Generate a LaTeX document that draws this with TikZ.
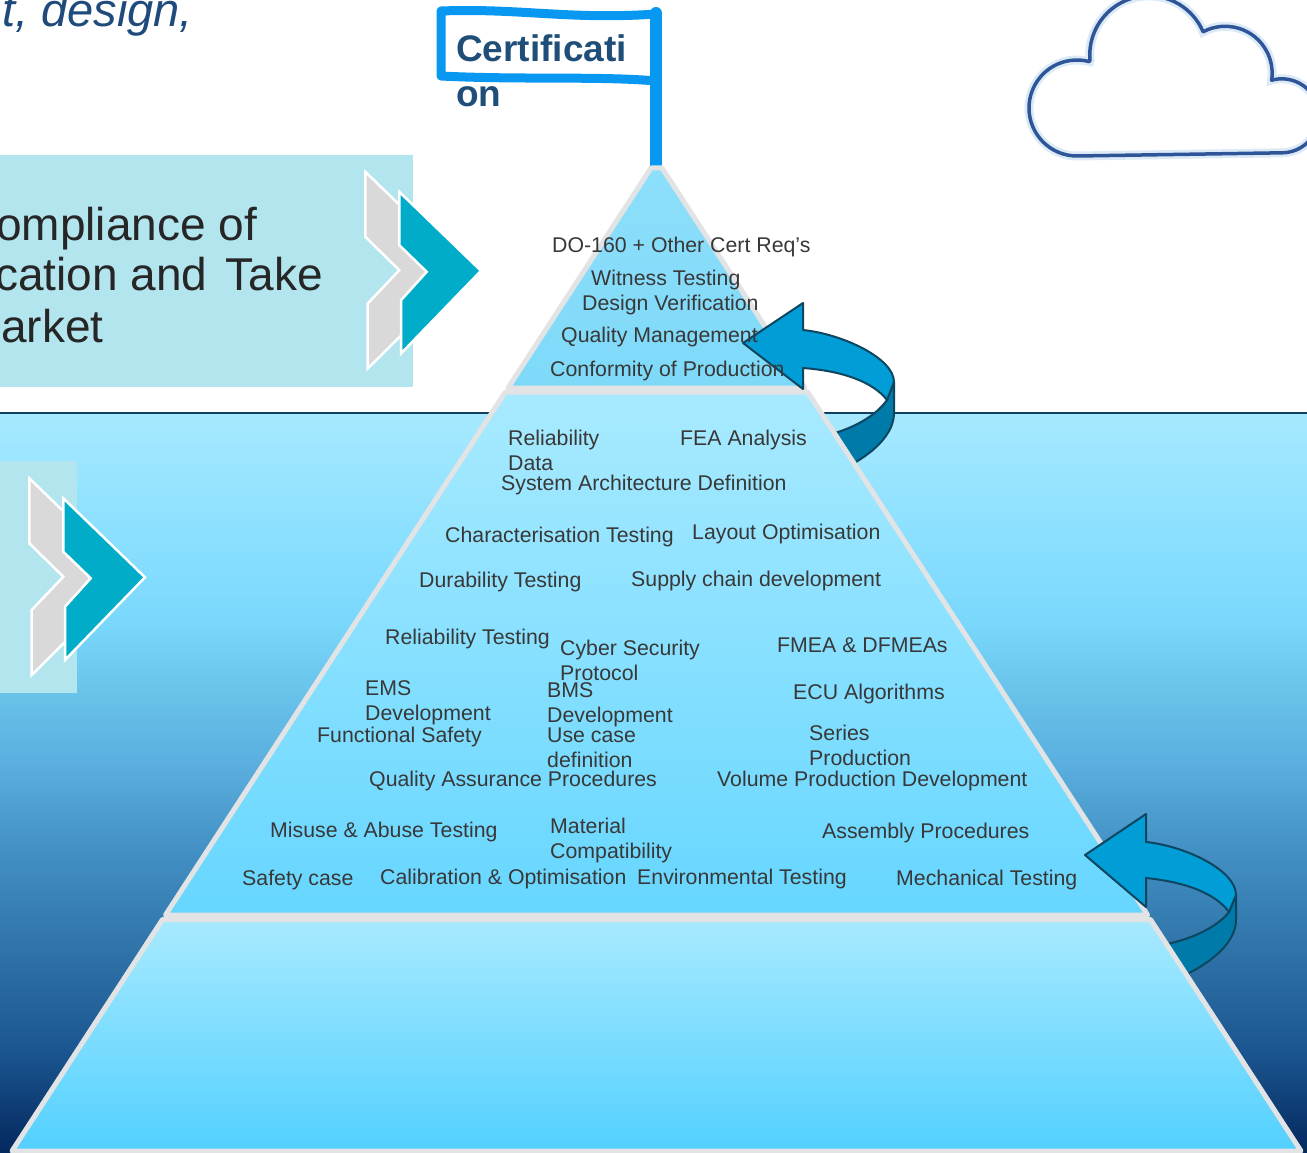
\documentclass[tikz,border=0pt]{standalone}
\usepackage{fontspec}
\setmainfont{Liberation Sans}

% palette
\definecolor{seaA}{HTML}{04285E}
\definecolor{seaB}{HTML}{1B5690}
\definecolor{seaC}{HTML}{2F73A8}
\definecolor{seaD}{HTML}{4390C4}
\definecolor{seaE}{HTML}{5BB0DF}
\definecolor{seaF}{HTML}{69C3EA}
\definecolor{seaG}{HTML}{7AD8FD}
\definecolor{seaH}{HTML}{8EE1FF}
\definecolor{seaI}{HTML}{A6E9FF}
\definecolor{seaedge}{HTML}{12415F}
\definecolor{boxcyan}{HTML}{B3E5EF}
\definecolor{chevgray}{HTML}{D9D9D9}
\definecolor{chevteal}{HTML}{00ACC8}
\definecolor{tieredge}{HTML}{E1E3E5}
\definecolor{tiertop}{HTML}{8DDFFA}
\definecolor{tiertopb}{HTML}{7ED9F9}
\definecolor{tierlight}{HTML}{A8EAFF}
\definecolor{tiermid}{HTML}{58D1FF}
\definecolor{tierlow}{HTML}{66D6FF}
\definecolor{tierbase}{HTML}{52D0FF}
\definecolor{flagblue}{HTML}{0898F2}
\definecolor{flagtext}{HTML}{1F4E79}
\definecolor{headblue}{HTML}{1F4A7C}
\definecolor{bigtext}{HTML}{262626}
\definecolor{lbltext}{HTML}{383838}
\definecolor{cloudline}{HTML}{2E5597}
\definecolor{cloudhalo}{HTML}{DCEAF7}
\definecolor{arrowlight}{HTML}{009DD7}
\definecolor{arrowdark}{HTML}{007AA8}
\definecolor{arrowedge}{HTML}{0E4660}

\pgfdeclareverticalshading{seadepth}{100bp}{color(0bp)=(seaA); color(25bp)=(seaA);
  color(31.96bp)=(seaB); color(38.71bp)=(seaC); color(45.47bp)=(seaD);
  color(51.55bp)=(seaE); color(56.28bp)=(seaF); color(61.01bp)=(seaG);
  color(67.77bp)=(seaH); color(75bp)=(seaI); color(100bp)=(seaI)}

% two stacked lines whose baseline is the first one
\newcommand{\stackedlabel}[2]{\vtop{\hbox{#1}\hbox{#2}}}

% grey chevron behind a teal chevron
\newcommand{\chevronpair}{%
  \draw[chevron, fill=chevgray] (29.3,478.3) -- (131,576.7) -- (31.7,675) -- (31.7,610)
    -- (63.3,576.7) -- (29.3,543.3) -- cycle;
  \draw[chevron, fill=chevteal] (63.3,498.3) -- (145,577.3) -- (65,660) -- (65,606.7)
    -- (90.7,578.3) -- (63.3,551.7) -- cycle;}

\begin{document}
\begin{tikzpicture}[x=1pt, y=-1pt,
  lbl/.style={anchor=base west, inner sep=0pt, text=lbltext,
    font=\fontsize{21.3}{25.5}\selectfont},
  panel/.style={anchor=base west, inner sep=0pt, text=bigtext,
    font=\fontsize{46}{51}\selectfont},
  tier/.style={draw=tieredge, line width=5pt, line join=round},
  chevron/.style={draw=white, line width=2.5pt, line join=miter},
  ribbonfront/.style={fill=arrowlight, draw=arrowedge, line width=2pt, line join=round},
  ribbonback/.style={fill=arrowdark, draw=arrowedge, line width=2pt, line join=round}]

\useasboundingbox (0,0) rectangle (1307,1153);
\clip (0,0) rectangle (1307,1153);
\fill[white] (0,0) rectangle (1307,1153);

% sea below the waterline
\shade[shading=seadepth] (0,413.5) rectangle (1307,1153);
\draw[seaedge, line width=2pt] (0,413) -- (1307,413);

% left-hand panels with chevrons
\fill[boxcyan] (0,155) rectangle (413,387);
\fill[boxcyan] (0,461) rectangle (77,693);
\begin{scope}[shift={(336,-306.5)}]
  \chevronpair
\end{scope}
\chevronpair

% cloud
\draw[cloudhalo, line width=9pt, fill=white]
  (1077,156) arc[start angle=90, end angle=285, radius=48] -- (1090,60)
  arc[start angle=175, end angle=337, radius=59]
  arc[start angle=242, end angle=368.5, radius=47]
  arc[start angle=254, end angle=450, radius=37] -- cycle;
\draw[cloudline, line width=3.5pt, line join=round]
  (1077,156) arc[start angle=90, end angle=285, radius=48] -- (1090,60)
  arc[start angle=175, end angle=337, radius=59]
  arc[start angle=242, end angle=368.5, radius=47]
  arc[start angle=254, end angle=450, radius=37] -- cycle;

% heading fragment
\node[anchor=base west, inner sep=0pt, text=headblue,
  font=\fontsize{47}{50}\selectfont\itshape] (heading) at (2,27) {t, design,};

% hidden sides of the circular arrows
\draw[ribbonback] (894,382) -- (894,413) .. controls (894,438) and (865,462) .. (822,478)
  -- (800,440) .. controls (840,436) and (873,420) .. (887,400) -- cycle;
\draw[ribbonback] (1236,895) -- (1236,920) .. controls (1236,945) and (1205,970) .. (1160,985)
  -- (1140,948) .. controls (1180,945) and (1215,930) .. (1229,912) -- cycle;

% flag and pole
\draw[flagblue, line width=9pt, fill=white, line join=round]
  (441,11) .. controls (520,8) and (570,20) .. (656,14) -- (656,81)
  .. controls (600,76) and (520,80) .. (441,76) -- cycle;
\draw[flagblue, line width=12pt, line cap=round] (656,13) -- (656,172);

% pyramid tiers
\draw[tier, top color=tiertop, bottom color=tiertopb]
  (651,168) -- (662,168) -- (805,388) -- (508,388) -- cycle;
\draw[tier, top color=tierlight, middle color=tiermid, bottom color=tierlow]
  (505.4,392) -- (807.6,392) -- (1147.6,915) -- (165.5,915) -- cycle;
\draw[tier, top color=tierlight, bottom color=tierbase]
  (162.5,919.5) -- (1150.5,919.5) -- (1301,1151) -- (12,1151) -- cycle;

% visible faces of the circular arrows
\draw[ribbonfront] (743,343) -- (803,303) -- (803,330) .. controls (842,334) and (894,358) .. (894,382)
  -- (887,400) .. controls (873,382) and (843,371) .. (803,368) -- (803,389) -- cycle;
\draw[ribbonfront] (1085,855) -- (1146,814) -- (1146,842) .. controls (1185,846) and (1236,870) .. (1236,895)
  -- (1229,912) .. controls (1215,893) and (1185,882) .. (1146,878) -- (1146,907) -- cycle;

% flag caption
\node[anchor=base west, inner sep=0pt, text=flagtext,
  font=\fontsize{37}{45}\selectfont\bfseries] (flagcap) at (456,62)
  {\stackedlabel{Certificati}{on}};

% panel caption, one node per line
\node[panel] (panelone) at (-4,240) {ompliance of};
\node[panel] (paneltwo) at (-5,290) {cation and\hspace{18pt}Take};
\node[panel] (panelthree) at (1,342) {arket};

% top tier
\node[lbl] (do160) at (552,252) {DO-160 + Other Cert Req’s};
\node[lbl] (witness) at (591,285) {Witness Testing};
\node[lbl] (designver) at (582,310) {Design Verification};
\node[lbl] (qualmgmt) at (561,342) {Quality Management};
\node[lbl] (conformity) at (550,376) {Conformity of Production};

% middle tier
\node[lbl] (reldata) at (508,445) {\stackedlabel{Reliability}{Data}};
\node[lbl] (fea) at (680,445) {FEA Analysis};
\node[lbl] (sysarch) at (501,490) {System Architecture Definition};
\node[lbl] (charact) at (445,542) {Characterisation Testing};
\node[lbl] (layout) at (692,539) {Layout Optimisation};
\node[lbl] (durab) at (419,587) {Durability Testing};
\node[lbl] (supply) at (631,586) {Supply chain development};
\node[lbl] (reltest) at (385,644) {Reliability Testing};
\node[lbl] (cyber) at (560,655) {\stackedlabel{Cyber Security}{Protocol}};
\node[lbl] (fmea) at (777,652) {FMEA \& DFMEAs};
\node[lbl] (ems) at (365,695) {\stackedlabel{EMS}{Development}};
\node[lbl] (bms) at (547,697) {\stackedlabel{BMS}{Development}};
\node[lbl] (ecu) at (793,699) {ECU Algorithms};
\node[lbl] (funcsafe) at (317,742) {Functional Safety};
\node[lbl] (usecase) at (547,742) {\stackedlabel{Use case}{definition}};
\node[lbl] (series) at (809,740) {\stackedlabel{Series}{Production}};
\node[lbl] (qap) at (369,786) {Quality Assurance Procedures};
\node[lbl] (vpd) at (717,786) {Volume Production Development};
\node[lbl] (misuse) at (270,837) {Misuse \& Abuse Testing};
\node[lbl] (material) at (550,833) {\stackedlabel{Material}{Compatibility}};
\node[lbl] (assembly) at (822,838) {Assembly Procedures};
\node[lbl] (safety) at (242,885) {Safety case};
\node[lbl] (calib) at (380,884) {Calibration \& Optimisation};
\node[lbl] (envtest) at (637,884) {Environmental Testing};
\node[lbl] (mechtest) at (896,885) {Mechanical Testing};

\end{tikzpicture}
\end{document}
